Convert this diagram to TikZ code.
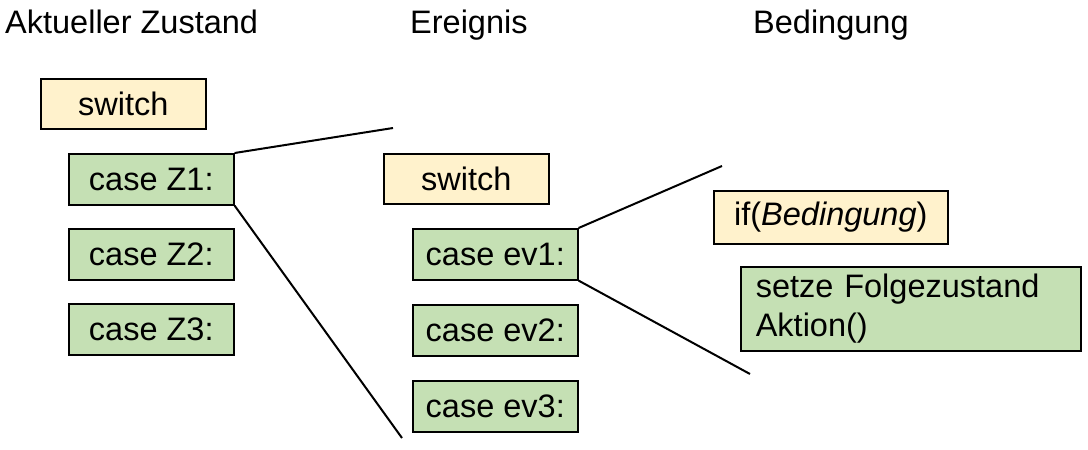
\documentclass[tikz,border=0pt]{standalone}
\usepackage{fontspec}
\setmainfont{Liberation Sans}
\usetikzlibrary{positioning}

\definecolor{kopfgelb}{HTML}{FFF2CC}
\definecolor{fallgruen}{HTML}{C5E0B4}

\begin{document}
\begin{tikzpicture}[
        x=1pt, y=-1pt,
        every node/.style={font=\fontsize{32.5}{39}\selectfont},
        titel/.style={anchor=base west, inner sep=0pt},
        kopf/.style={draw, fill=kopfgelb, line width=1.6pt, anchor=north west,
                     minimum width=165pt, minimum height=50pt, inner sep=0pt},
        fall/.style={draw, fill=fallgruen, line width=1.6pt, anchor=north west,
                     minimum width=165pt, minimum height=51pt, inner sep=0pt},
        zoom/.style={line width=2pt}
    ]
        \useasboundingbox (0,0) rectangle (1088,450);

        % Ueberschriften
        \node [titel] (tZustand) at (5,33) {Aktueller Zustand};
        \node [titel] (tEreignis) at (410,33) {Ereignis};
        \node [titel] (tBedingung) at (753,33) {Bedingung};

        % Zustaende
        \node [kopf] (sw1) at (40,78) {switch};
        \node [fall] (Z1) at (68,153) {case Z1:};
        \node [fall] (Z2) at (68,228) {case Z2:};
        \node [fall] (Z3) at (68,303) {case Z3:};

        % Ereignisse
        \node [kopf] (sw2) at (383,153) {switch};
        \node [fall] (ev1) at (412,228) {case ev1:};
        \node [fall] (ev2) at (412,304) {case ev2:};
        \node [fall] (ev3) at (412,380) {case ev3:};

        % Bedingung
        \node [kopf, minimum width=234pt, minimum height=53pt] (wenn) at (713,190) {if(\textit{Bedingung})};
        \node [fall, minimum width=340pt, minimum height=84pt, align=left,
               text width=310pt, inner xsep=15pt, inner ysep=4pt] (aktion) at (740,266)
              {setze Folgezustand\\Aktion()};

        % Aufklapp-Linien
        \coordinate (z1oben) at (393,128);
        \coordinate (z1unten) at (402,438);
        \coordinate (ev1oben) at (722,166);
        \coordinate (ev1unten) at (750,374);
        \draw [zoom] (Z1.north east) -- (z1oben);
        \draw [zoom] (Z1.south east) -- (z1unten);
        \draw [zoom] (ev1.north east) -- (ev1oben);
        \draw [zoom] (ev1.south east) -- (ev1unten);
    \end{tikzpicture}
\end{document}
